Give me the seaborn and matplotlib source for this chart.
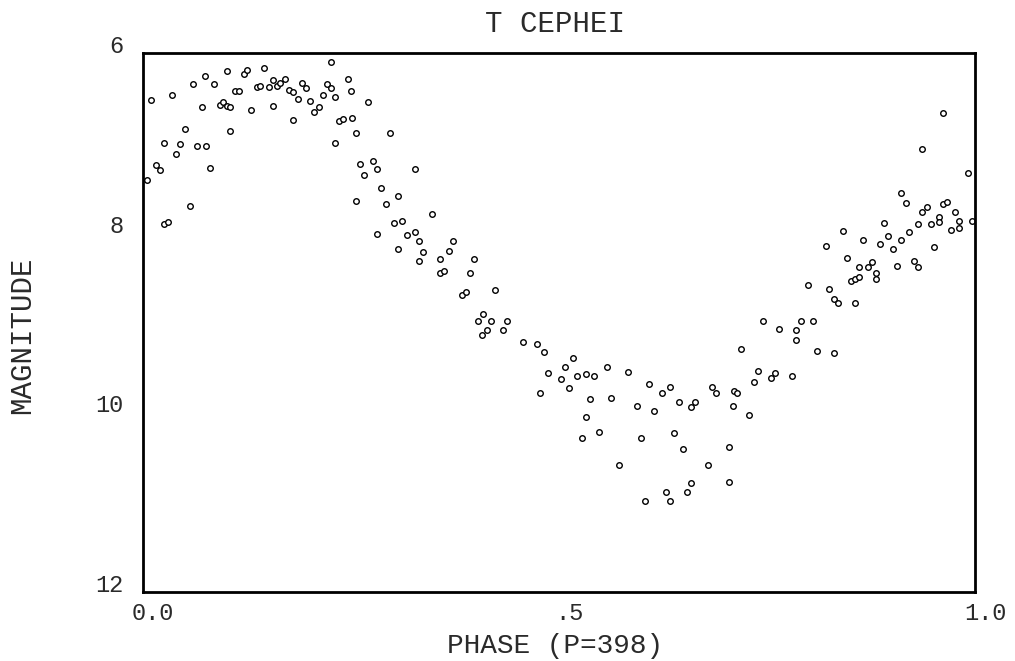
import matplotlib
matplotlib.use("Agg")
import matplotlib.pyplot as plt
import matplotlib.transforms as mtrans
import seaborn as sns
import pandas as pd

# ------------------------------------------------------------------
# T Cephei light curve, folded on P = 398 d
# ------------------------------------------------------------------
phase = [
    0.010, 0.035, 0.060, 0.075, 0.085, 0.101, 0.121, 0.125, 0.145, 0.111,
    0.115, 0.137, 0.141, 0.151, 0.156, 0.161, 0.165, 0.171, 0.176, 0.180,
    0.191, 0.196, 0.186, 0.201, 0.211, 0.206, 0.216, 0.221, 0.226, 0.231,
    0.226, 0.246, 0.250, 0.071, 0.093, 0.096, 0.101, 0.105, 0.130, 0.156,
    0.180, 0.236, 0.240, 0.251, 0.256, 0.231, 0.105, 0.050, 0.025, 0.045,
    0.040, 0.065, 0.076, 0.016, 0.021, 0.081, 0.005, 0.056, 0.025, 0.030,
    0.271,
    # descending branch
    0.297, 0.261, 0.276, 0.281, 0.266, 0.327, 0.286, 0.306, 0.256, 0.292,
    0.347, 0.302, 0.311, 0.281, 0.317, 0.327, 0.332, 0.373, 0.306, 0.337,
    0.368, 0.332, 0.357, 0.398, 0.357, 0.362, 0.393, 0.423, 0.383, 0.388,
    0.409, 0.403, 0.418, 0.438, 0.413, 0.407, 0.433, 0.457, 0.474, 0.482,
    # minimum
    0.517, 0.507, 0.487, 0.502, 0.522, 0.532, 0.542, 0.512, 0.477, 0.558,
    0.583, 0.537, 0.562, 0.532, 0.528, 0.548, 0.572, 0.594, 0.608, 0.614,
    0.624, 0.633, 0.599, 0.644, 0.638, 0.649, 0.659, 0.663, 0.603, 0.629,
    0.633, 0.654, 0.659, 0.679, 0.684, 0.689, 0.710, 0.714, 0.709, 0.704,
    0.704, 0.728, 0.719, 0.734, 0.739,
    # rising branch
    0.962, 0.936, 0.992, 0.911, 0.917, 0.942, 0.936, 0.962, 0.966, 0.976,
    0.957, 0.957, 0.981, 0.996, 0.947, 0.931, 0.971, 0.981, 0.921, 0.891,
    0.895, 0.911, 0.886, 0.901, 0.865, 0.841, 0.821, 0.846, 0.906, 0.927,
    0.931, 0.951, 0.861, 0.871, 0.876, 0.881, 0.881, 0.851, 0.856, 0.861,
    0.799, 0.825, 0.831, 0.835, 0.856, 0.745, 0.764, 0.791, 0.805, 0.785,
    0.785, 0.810, 0.831, 0.760, 0.755, 0.780,
]
magnitude = [
    6.52, 6.47, 6.35, 6.26, 6.34, 6.20, 6.23, 6.19, 6.17, 6.42,
    6.42, 6.38, 6.37, 6.38, 6.30, 6.37, 6.33, 6.29, 6.41, 6.43,
    6.33, 6.39, 6.51, 6.53, 6.60, 6.66, 6.47, 6.34, 6.39, 6.49,
    6.10, 6.29, 6.42, 6.60, 6.58, 6.55, 6.59, 6.60, 6.64, 6.59,
    6.75, 6.76, 6.74, 6.72, 6.89, 7.00, 6.87, 6.85, 7.00, 7.01,
    7.12, 7.03, 7.03, 7.25, 7.30, 7.28, 7.41, 7.70, 7.90, 7.88,
    6.55,
    6.89, 7.24, 7.20, 7.29, 7.36, 7.29, 7.50, 7.59, 7.65, 7.68,
    7.79, 7.89, 7.87, 8.02, 8.03, 7.99, 8.09, 8.09, 8.18, 8.22,
    8.20, 8.31, 8.29, 8.29, 8.45, 8.43, 8.45, 8.64, 8.69, 8.66,
    8.90, 8.98, 8.98, 8.98, 9.08, 9.14, 9.08, 9.22, 9.24, 9.33,
    9.40, 9.49, 9.56, 9.63, 9.59, 9.57, 9.59, 9.73, 9.79, 9.50,
    9.55, 9.85, 9.84, 10.05, 10.29, 10.22, 10.59, 9.93, 9.69, 9.98,
    9.79, 9.72, 10.29, 9.89, 10.23, 10.41, 9.94, 9.89, 10.99, 10.89,
    10.99, 10.89, 10.79, 10.59, 9.72, 9.79, 9.76, 9.79, 9.93, 10.39,
    10.78, 10.03, 9.29, 9.66, 9.54,
    6.67, 7.07, 7.34, 7.56, 7.67, 7.71, 7.77, 7.68, 7.66, 7.77,
    7.83, 7.88, 7.87, 7.87, 7.90, 7.90, 7.97, 7.95, 7.99, 7.89,
    8.04, 8.08, 8.13, 8.18, 8.08, 7.98, 8.15, 8.28, 8.37, 8.32,
    8.38, 8.16, 8.38, 8.38, 8.33, 8.45, 8.52, 8.54, 8.52, 8.49,
    8.58, 8.63, 8.74, 8.78, 8.78, 8.98, 9.07, 8.98, 8.98, 9.08,
    9.20, 9.32, 9.34, 9.56, 9.62, 9.59,
]

x_ticks = [0.0, 0.5, 1.0]
x_ticklabels = ["0.0", ".5", "1.0"]
y_ticks = [6, 8, 10, 12]
y_ticklabels = ["6", "8", "10", "12"]

df = pd.DataFrame({"phase": phase, "mag": magnitude})

sns.set_style("white")
plt.rcParams["font.family"] = ["Liberation Mono", "DejaVu Sans Mono"]
txt_col = "#2a2a2a"

fig = plt.figure(figsize=(10.15, 6.61), dpi=100)
ax = fig.add_axes([143 / 1015, 1 - 592 / 661, 832 / 1015, 539 / 661])

sns.scatterplot(data=df, x="phase", y="mag", ax=ax, marker="o", s=16,
                facecolor="white", edgecolor="black", linewidth=1.0)

ax.set_xlim(0, 1)
ax.set_ylim(12, 6)
ax.set_xticks(x_ticks)
ax.set_xticklabels(x_ticklabels, fontsize=17)
ax.set_yticks(y_ticks)
ax.set_yticklabels(y_ticklabels, fontsize=17)
ax.set_yticks([7, 9, 11], minor=True)
ax.tick_params(axis="both", which="both", direction="in", length=5,
               width=1.2, color="black", labelcolor=txt_col)
ax.tick_params(axis="x", pad=7)
ax.tick_params(axis="y", pad=14)
for lab in ax.get_yticklabels():
    lab.set_va("baseline")
shift = mtrans.ScaledTranslation(10 / 100, 0, fig.dpi_scale_trans)
for lab in ax.get_xticklabels():
    lab.set_transform(lab.get_transform() + shift)

for sp in ax.spines.values():
    sp.set_color("black")
    sp.set_linewidth(2)

ax.set_xlabel("")
ax.set_ylabel("")
fig.text(0.5468, 0.964, "T CEPHEI", ha="center", va="center", fontsize=21,
         color=txt_col)
fig.text(0.5468, 0.022, "PHASE (P=398)", ha="center", va="center",
         fontsize=20, color=txt_col)
fig.text(0.022, 0.493, "MAGNITUDE", ha="center", va="center", fontsize=21,
         rotation=90, color=txt_col)

fig.savefig("out.png", dpi=100)
print("Saved out.png")
